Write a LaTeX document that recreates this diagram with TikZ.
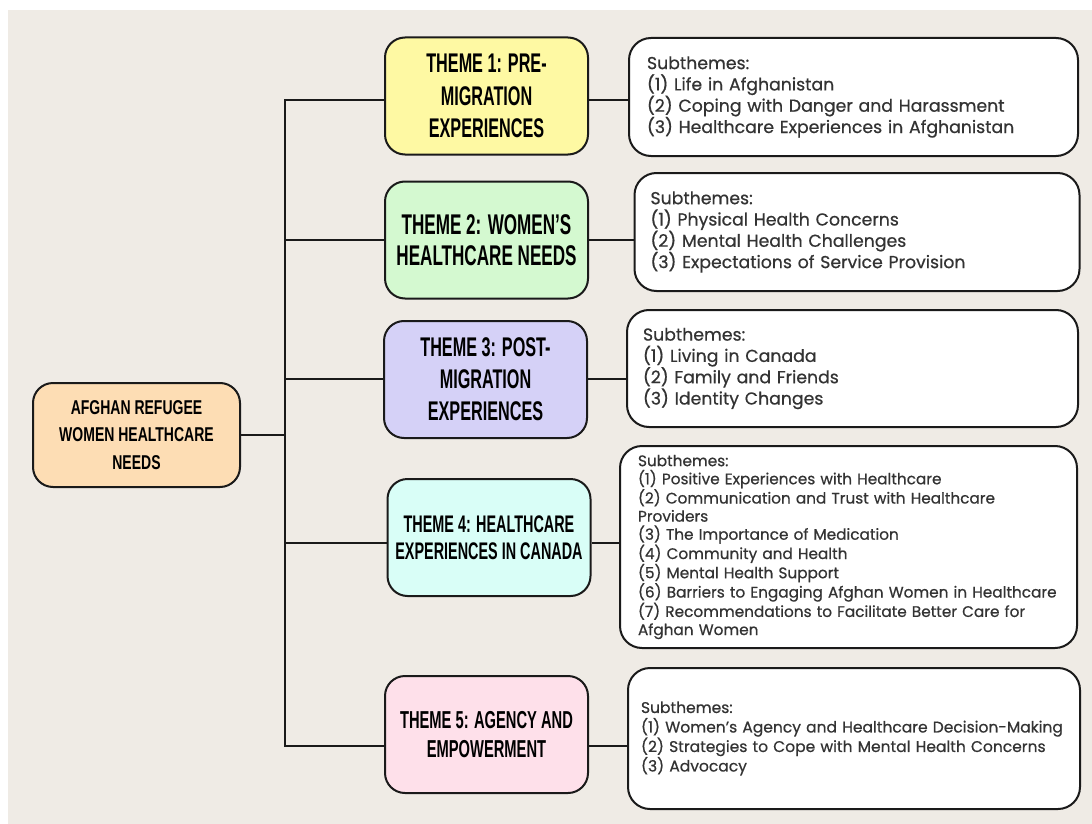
\documentclass[tikz,border=0pt]{standalone}
\usepackage{fontspec}
\newfontfamily\themefont[FakeStretch=0.6]{Liberation Sans}
\newfontfamily\rootfont[FakeStretch=0.7]{Liberation Sans}
\newfontfamily\subfont[FakeBold=0.6]{Poppins}
\definecolor{bgc}{HTML}{EFEBE5}
\definecolor{rootc}{HTML}{FDDDB4}
\definecolor{tha}{HTML}{FEF9A3}
\definecolor{thb}{HTML}{D4F9D0}
\definecolor{thc}{HTML}{D5D1F7}
\definecolor{thd}{HTML}{D9FEF7}
\definecolor{the}{HTML}{FEE0EA}
\definecolor{edgec}{HTML}{1A1A1A}
\definecolor{subtxt}{HTML}{333333}
\tikzset{
  box/.style={draw=edgec, line width=2pt, rounded corners=20pt, align=center, inner sep=0pt},
  themebox/.style={box, minimum width=203pt, minimum height=117pt, text=black},
  subbox/.style={draw=edgec, line width=2pt, rounded corners=22pt, fill=white, align=left, inner xsep=16pt, inner ysep=0pt, text=subtxt},
  conn/.style={draw=edgec, line width=2pt},
}
\begin{document}
\begin{tikzpicture}[x=1pt,y=-1pt]
\useasboundingbox (0,0) rectangle (1092,824);
\fill[white] (0,0) rectangle (1092,824);
\fill[bgc] (8,10) rectangle (1092,824);

% root
\node[box, fill=rootc, minimum width=207pt, minimum height=104pt,
  font={\rootfont\bfseries\fontsize{20}{27.5}\selectfont}] (root) at (136.5,435)
  {AFGHAN REFUGEE\\WOMEN HEALTHCARE\\NEEDS};

% themes
\node[themebox, fill=tha, font={\themefont\bfseries\fontsize{27}{32.5}\selectfont}] (t1) at (486.5,96)
  {THEME 1: PRE-\\MIGRATION\\EXPERIENCES};
\node[themebox, fill=thb, font={\themefont\bfseries\fontsize{28.5}{31}\selectfont}] (t2) at (486.5,240)
  {THEME 2: WOMEN’S\\HEALTHCARE NEEDS};
\node[themebox, fill=thc, font={\themefont\bfseries\fontsize{27}{32}\selectfont}] (t3) at (485.5,379.5)
  {THEME 3: POST-\\MIGRATION\\EXPERIENCES};
\node[themebox, fill=thd, font={\themefont\bfseries\fontsize{24}{27}\selectfont}] (t4) at (489,537.5)
  {THEME 4: HEALTHCARE\\EXPERIENCES IN CANADA};
\node[themebox, fill=the, font={\themefont\bfseries\fontsize{24.5}{29}\selectfont}] (t5) at (486.5,734.5)
  {THEME 5: AGENCY AND\\EMPOWERMENT};

% subtheme boxes
\node[subbox, minimum width=445pt, minimum height=118pt, text width=413pt, inner xsep=18pt,
  font={\subfont\fontsize{17.3}{21.3}\selectfont}] (s1) at (853.5,97)
  {Subthemes:\\(1) Life in Afghanistan\\(2) Coping with Danger and Harassment\\(3) Healthcare Experiences in Afghanistan};
\node[subbox, minimum width=445pt, minimum height=118pt, text width=413pt, inner xsep=12pt,
  font={\subfont\fontsize{17.3}{21.3}\selectfont}] (s2) at (857,232)
  {Subthemes:\\(1) Physical Health Concerns\\(2) Mental Health Challenges\\(3) Expectations of Service Provision};
\node[subbox, minimum width=451pt, minimum height=117pt, text width=419pt, inner xsep=15pt,
  font={\subfont\fontsize{17.3}{21.3}\selectfont}] (s3) at (852.5,368.5)
  {Subthemes:\\(1) Living in Canada\\(2) Family and Friends\\(3) Identity Changes};
\node[subbox, minimum width=453pt, minimum height=202pt, text width=421pt, inner xsep=18pt,
  font={\subfont\fontsize{15.3}{18.1}\selectfont}] (s4) at (848.5,547)
  {Subthemes:\\(1) Positive Experiences with Healthcare\\(2) Communication and Trust with Healthcare\\Providers\\(3) The Importance of Medication\\(4) Community and Health\\(5) Mental Health Support\\(6) Barriers to Engaging Afghan Women in Healthcare\\(7) Recommendations to Facilitate Better Care for\\Afghan Women};
\node[subbox, minimum width=452pt, minimum height=141pt, text width=426pt, inner xsep=13pt,
  font={\subfont\fontsize{15.5}{19.5}\selectfont}] (s5) at (854,738.5)
  {Subthemes:\\\mbox{(1) Women’s Agency and Healthcare Decision-Making}\\\mbox{(2) Strategies to Cope with Mental Health Concerns}\\(3) Advocacy};

% connectors
\coordinate (b1) at (285,100);
\coordinate (b2) at (285,240);
\coordinate (b3) at (285,379);
\coordinate (b4) at (285,543);
\coordinate (b5) at (285,746);
\draw[conn, line cap=rect] (b1) -- (b5);
\draw[conn] (root.east) -- (root.east -| b1);
\draw[conn] (b1) -- (b1 -| t1.west);
\draw[conn] (b2) -- (b2 -| t2.west);
\draw[conn] (b3) -- (b3 -| t3.west);
\draw[conn] (b4) -- (b4 -| t4.west);
\draw[conn] (b5) -- (b5 -| t5.west);
\draw[conn] (b1 -| t1.east) -- (b1 -| s1.west);
\draw[conn] (b2 -| t2.east) -- (b2 -| s2.west);
\draw[conn] (b3 -| t3.east) -- (b3 -| s3.west);
\draw[conn] (b4 -| t4.east) -- (b4 -| s4.west);
\draw[conn] (b5 -| t5.east) -- (b5 -| s5.west);
\end{tikzpicture}
\end{document}
